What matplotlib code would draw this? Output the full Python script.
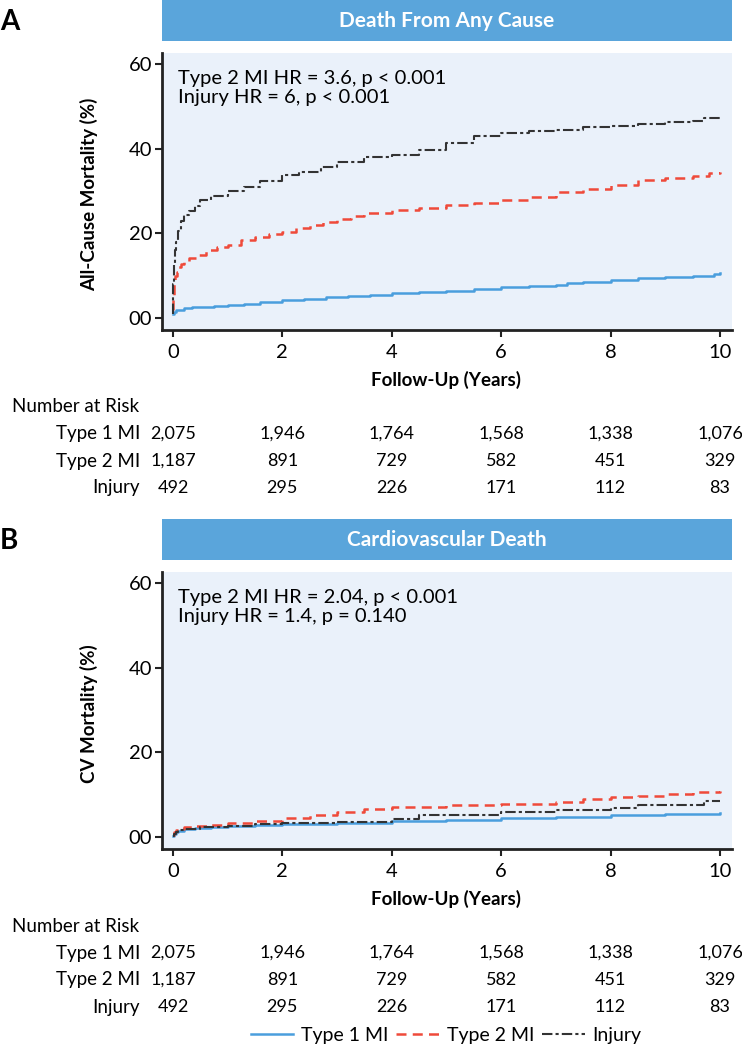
import matplotlib
matplotlib.use('Agg')
import matplotlib.pyplot as plt
from matplotlib.transforms import blended_transform_factory
from matplotlib.lines import Line2D

plt.rcParams['font.family'] = ['Lato', 'DejaVu Sans']

# ---- data ----
groups = ['Type 1 MI', 'Type 2 MI', 'Injury']
risk_times = [0, 2, 4, 6, 8, 10]
at_risk = [['2,075', '1,946', '1,764', '1,568', '1,338', '1,076'],
           ['1,187', '891', '729', '582', '451', '329'],
           ['492', '295', '226', '171', '112', '83']]

# panel A: all-cause mortality (%)
a_t1 = [0, 0.02, 0.05, 0.1, 0.2, 0.35, 0.5, 0.75, 1.0, 1.3, 1.6, 2.0, 2.4, 2.8, 3.2, 3.6,
        4.0, 4.5, 5.0, 5.5, 6.0, 6.5, 7.0, 7.2, 7.5, 8.0, 8.5, 9.0, 9.5, 9.9, 10.0]
a_y1 = [1.0, 1.4, 1.8, 2.0, 2.3, 2.5, 2.7, 2.9, 3.1, 3.4, 3.7, 4.2, 4.6, 5.0, 5.2, 5.5,
        5.8, 6.1, 6.5, 6.9, 7.3, 7.6, 7.8, 8.2, 8.5, 9.1, 9.4, 9.7, 10.0, 10.4, 10.6]
a_t2 = [0, 0.01, 0.02, 0.04, 0.07, 0.1, 0.15, 0.2, 0.3, 0.45, 0.6, 0.8, 1.0, 1.25, 1.5,
        1.75, 2.0, 2.25, 2.5, 2.75, 3.0, 3.25, 3.5, 4.0, 4.5, 5.0, 5.5, 6.0, 6.5, 7.0,
        7.5, 8.0, 8.5, 9.0, 9.5, 9.8, 10.0]
a_y2 = [2, 5, 8, 10, 11, 12, 12.8, 13.5, 14.2, 15.0, 16, 16.8, 17.3, 18.5, 19.2,
        19.8, 20.3, 21.3, 22.0, 22.6, 23.5, 24.2, 24.8, 25.5, 26.0, 26.7, 27.2, 28, 28.7, 29.8,
        30.6, 31.4, 32.6, 33.2, 33.5, 34.2, 34.6]
a_t3 = [0, 0.01, 0.02, 0.04, 0.06, 0.1, 0.15, 0.2, 0.3, 0.4, 0.5, 0.7, 1.0, 1.3, 1.6,
        2.0, 2.3, 2.7, 3.0, 3.5, 4.0, 4.5, 5.0, 5.5, 6.0, 6.5, 7.0, 7.5, 8.0, 8.5, 9.0,
        9.5, 9.7, 10.0]
a_y3 = [1, 8, 13, 16, 18, 20.5, 23, 24.3, 25.2, 26.5, 27.9, 28.8, 30.0, 31.0, 32.5,
        33.8, 34.5, 35.8, 37.0, 38.0, 38.6, 39.8, 41.5, 43.0, 43.8, 44.2, 44.5, 45.2, 45.4, 45.9, 46.3,
        46.6, 47.4, 47.5]

# panel B: cardiovascular mortality (%)
b_t1 = [0, 0.02, 0.05, 0.1, 0.2, 0.4, 0.7, 1, 1.5, 2, 3, 4, 5, 6, 7, 8, 9, 10]
b_y1 = [0.3, 0.8, 1.2, 1.5, 1.8, 2.1, 2.4, 2.6, 2.9, 3.1, 3.4, 3.8, 4.1, 4.5, 4.8, 5.1, 5.4, 5.7]
b_t2 = [0, 0.02, 0.05, 0.1, 0.2, 0.4, 0.7, 1, 1.5, 2, 2.5, 3, 3.5, 4, 5, 6, 7, 7.5, 8,
        8.5, 9, 9.5, 10]
b_y2 = [0.5, 1.2, 1.6, 2.0, 2.3, 2.6, 2.9, 3.2, 3.7, 4.6, 5.3, 6.0, 6.6, 7.1, 7.5, 7.9, 8.3, 9.0, 9.4,
        9.8, 10.1, 10.6, 11.0]
b_t3 = [0, 0.02, 0.05, 0.1, 0.2, 0.5, 1, 1.5, 2, 3, 4, 4.5, 5, 6, 7, 8, 8.5, 9, 9.7, 10]
b_y3 = [0.2, 0.8, 1.2, 1.6, 1.9, 2.3, 2.7, 3.0, 3.2, 3.6, 4.2, 5.1, 5.3, 5.8, 6.3, 6.9, 7.5, 7.6, 8.5, 8.6]

colors = ['#4A9EDD', '#EF4A3A', '#333333']
styles = ['-', (0, (4, 2.5)), (0, (5, 1.5, 1.5, 1.5))]
widths = [1.8, 1.8, 1.5]
header_color = '#5AA5DB'
bg_color = '#EAF1FA'

W, H = 742, 1050
fig = plt.figure(figsize=(W / 100, H / 100), dpi=100)


def px(x0, y0, x1, y1):
    # pixel box -> figure fraction rect
    return [x0 / W, 1 - y1 / H, (x1 - x0) / W, (y1 - y0) / H]


def panel(off, letter, title, ylabel, hr_text, series):
    fig.text(0 / W, 1 - (off + 22) / H, letter, fontsize=20, fontweight='bold', va='center', ha='left')

    hax = fig.add_axes(px(162, off, 732, off + 41))
    hax.set_facecolor(header_color)
    hax.set_xticks([])
    hax.set_yticks([])
    for s in hax.spines.values():
        s.set_visible(False)
    hax.text(0.5, 0.48, title, color='white', fontsize=15, fontweight='bold',
             ha='center', va='center', transform=hax.transAxes)

    ax = fig.add_axes(px(162, off + 53, 732, off + 330))
    ax.set_facecolor(bg_color)
    for (t, y), c, ls, lw in zip(series, colors, styles, widths):
        ax.plot(t, y, color=c, linestyle=ls, linewidth=lw, drawstyle='steps-post')
    ax.set_xlim(-0.2, 10.22)
    ax.set_ylim(-2.84, 62.7)
    ax.set_xticks(risk_times)
    ax.set_yticks([0, 20, 40, 60])
    ax.set_yticklabels(['00', '20', '40', '60'])
    ax.tick_params(axis='both', labelsize=14.5, length=5, width=1.5, color='#222222')
    ax.tick_params(axis='x', pad=5)
    ax.tick_params(axis='y', pad=2)
    for s in ['top', 'right']:
        ax.spines[s].set_visible(False)
    for s in ['left', 'bottom']:
        ax.spines[s].set_linewidth(2)
        ax.spines[s].set_color('#222222')
    ax.set_ylabel(ylabel, fontsize=13.5, fontweight='bold')
    ax.yaxis.set_label_coords(-0.112, 0.49)
    ax.text(0.498, -0.18, 'Follow-Up (Years)', fontsize=13.5, fontweight='bold',
            ha='center', va='center', transform=ax.transAxes)
    ax.text(0.028, 0.94, hr_text, fontsize=14.5, ha='left', va='top',
            linespacing=1.15, transform=ax.transAxes)

    # number at risk table
    tr = blended_transform_factory(ax.transData, fig.transFigure)
    fig.text(12 / W, 1 - (off + 407) / H, 'Number at Risk', fontsize=13.5, ha='left', va='center')
    for i, g in enumerate(groups):
        yy = 1 - (off + 434 + 27 * i) / H
        fig.text(140 / W, yy, g, fontsize=13.5, ha='right', va='center')
        for t, v in zip(risk_times, at_risk[i]):
            fig.text(t, yy, v, fontsize=13, ha='center', va='center', transform=tr)
    return ax


panel(0, 'A', 'Death From Any Cause', 'All-Cause Mortality (%)',
      'Type 2 MI HR = 3.6, p < 0.001\nInjury HR = 6, p < 0.001',
      [(a_t1, a_y1), (a_t2, a_y2), (a_t3, a_y3)])
panel(519, 'B', 'Cardiovascular Death', 'CV Mortality (%)',
      'Type 2 MI HR = 2.04, p < 0.001\nInjury HR = 1.4, p = 0.140',
      [(b_t1, b_y1), (b_t2, b_y2), (b_t3, b_y3)])

handles = [Line2D([], [], color=c, linestyle=ls, linewidth=lw)
           for c, ls, lw in zip(colors, styles, widths)]
fig.legend(handles, groups, loc='center', bbox_to_anchor=(446 / W, 1 - 1035 / H), ncol=3,
           frameon=False, fontsize=14, handlelength=2.2, handletextpad=0.4,
           columnspacing=0.4)

fig.savefig('out.png', dpi=100)
